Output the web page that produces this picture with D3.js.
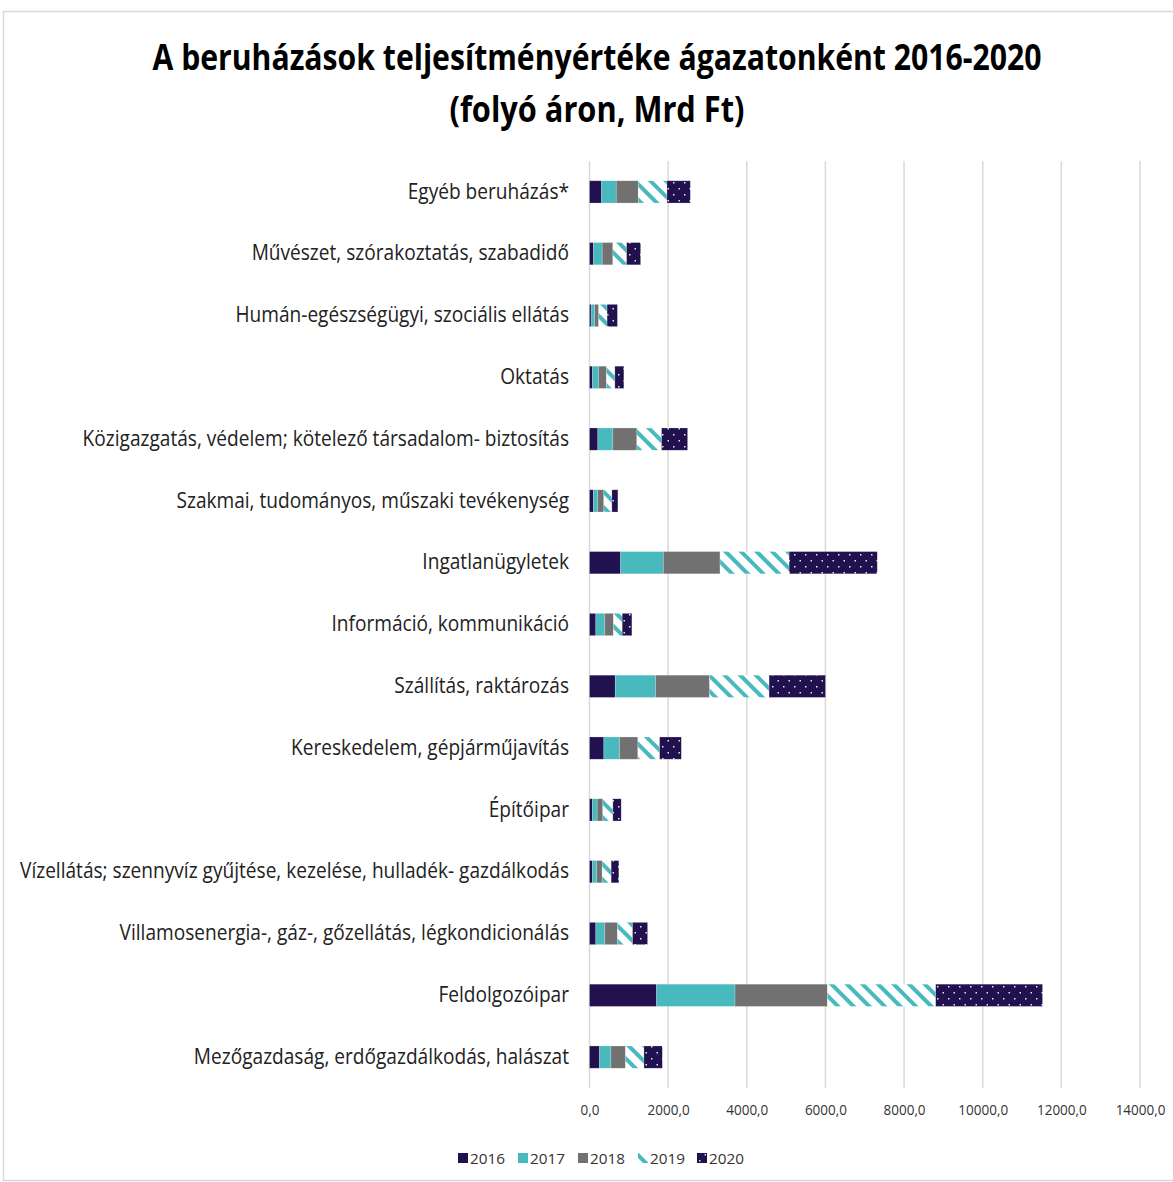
<!DOCTYPE html>
<html>
<head>
<meta charset="utf-8">
<script src="https://cdn.jsdelivr.net/npm/d3@7"></script>
<style>
  body { margin: 0; background: #fff; }
  text { font-family: 'Open Sans', 'Noto Sans', sans-serif; fill: #222; }
</style>
</head>
<body>
<svg id="chart"></svg>
<script>
let width = 1173;
let height = 1182;

// categories, top to bottom
let categories = [
  'Egyéb beruházás*',
  'Művészet, szórakoztatás, szabadidő',
  'Humán-egészségügyi, szociális ellátás',
  'Oktatás',
  'Közigazgatás, védelem; kötelező társadalom- biztosítás',
  'Szakmai, tudományos, műszaki tevékenység',
  'Ingatlanügyletek',
  'Információ, kommunikáció',
  'Szállítás, raktározás',
  'Kereskedelem, gépjárműjavítás',
  'Építőipar',
  'Vízellátás; szennyvíz gyűjtése, kezelése, hulladék- gazdálkodás',
  'Villamosenergia-, gáz-, gőzellátás, légkondicionálás',
  'Feldolgozóipar',
  'Mezőgazdaság, erdőgazdálkodás, halászat',
];

let years = ['2016', '2017', '2018', '2019', '2020'];

// Mrd Ft, same order as categories
let v2016 = [306, 102, 40, 76, 212, 102, 790, 161, 654, 365, 76, 76, 161, 1706, 255];
let v2017 = [374, 221, 93, 153, 382, 110, 1087, 229, 1027, 399, 119, 110, 229, 1995, 289];
let v2018 = [560, 272, 102, 204, 611, 153, 1443, 221, 1375, 467, 144, 136, 323, 2352, 374];
let v2019 = [730, 348, 212, 212, 628, 204, 1757, 221, 1511, 552, 255, 229, 382, 2751, 467];
let v2020 = [594, 357, 263, 229, 662, 153, 2241, 246, 1435, 552, 212, 195, 382, 2717, 467];

let xTicks = [0, 2000, 4000, 6000, 8000, 10000, 12000, 14000];

let rows = categories.map((c, i) => ({
  cat: c,
  '2016': v2016[i],
  '2017': v2017[i],
  '2018': v2018[i],
  '2019': v2019[i],
  '2020': v2020[i],
}));

let navy = '#21124f';
let teal = '#48b9bc';
let grey = '#717171';

let svg = d3.select('#chart').attr('width', width).attr('height', height);
let defs = svg.append('defs');

// 2019: white with teal "\" stripes
let stripe = defs.append('pattern')
  .attr('id', 'stripes')
  .attr('patternUnits', 'userSpaceOnUse')
  .attr('width', 11).attr('height', 11)
  .attr('patternTransform', 'rotate(-45)');
stripe.append('rect').attr('width', 11).attr('height', 11).attr('fill', '#fff');
stripe.append('rect').attr('width', 4).attr('height', 11).attr('fill', teal);

// 2020: navy with small white dots
let dots = defs.append('pattern')
  .attr('id', 'dots')
  .attr('patternUnits', 'userSpaceOnUse')
  .attr('width', 11).attr('height', 12);
dots.append('rect').attr('width', 11).attr('height', 12).attr('fill', navy);
dots.append('rect').attr('x', 2).attr('y', 2).attr('width', 1.5).attr('height', 1.5).attr('fill', '#e8e4f0');
dots.append('rect').attr('x', 7.5).attr('y', 8).attr('width', 1.5).attr('height', 1.5).attr('fill', '#e8e4f0');

let fills = {
  '2016': navy,
  '2017': teal,
  '2018': grey,
  '2019': 'url(#stripes)',
  '2020': 'url(#dots)',
};

// frame
svg.append('rect')
  .attr('x', 3.5).attr('y', 11.5)
  .attr('width', width + 10).attr('height', height - 13)
  .attr('fill', 'none').attr('stroke', '#d9d9d9').attr('stroke-width', 1.5);

// title
let title = svg.append('g').attr('font-weight', 'bold');
title.append('text')
  .attr('x', 597).attr('y', 70)
  .attr('text-anchor', 'middle')
  .attr('font-size', 35)
  .attr('textLength', 889).attr('lengthAdjust', 'spacingAndGlyphs')
  .style('fill', '#000')
  .text('A beruházások teljesítményértéke ágazatonként 2016-2020');
title.append('text')
  .attr('x', 597).attr('y', 122)
  .attr('text-anchor', 'middle')
  .attr('font-size', 35)
  .attr('textLength', 295).attr('lengthAdjust', 'spacingAndGlyphs')
  .style('fill', '#000')
  .text('(folyó áron, Mrd Ft)');

let x = d3.scaleLinear().domain([0, 14000]).range([589.5, 1140]);
let y = d3.scaleBand().domain(categories).range([161, 1088]).paddingInner(0.64).paddingOuter(0.32);

// gridlines
svg.append('g')
  .selectAll('line')
  .data(xTicks)
  .enter()
  .append('line')
  .attr('x1', (d) => x(d)).attr('x2', (d) => x(d))
  .attr('y1', 161).attr('y2', 1088)
  .attr('stroke', '#d9d9d9').attr('stroke-width', 1.5);

// x axis labels
let xAxis = d3.axisBottom(x)
  .tickValues(xTicks)
  .tickSize(0)
  .tickPadding(0)
  .tickFormat((d) => d3.format('.1f')(d).replace('.', ','));
let xg = svg.append('g').attr('transform', 'translate(0,1104)').call(xAxis);
xg.select('.domain').remove();
xg.selectAll('text')
  .attr('font-size', 15)
  .attr('transform', 'scale(0.9,1)')
  .style('font-family', "'Open Sans', sans-serif")
  .style('fill', '#333');

// stacked bars
let stack = d3.stack().keys(years);
let series = stack(rows);

svg.append('g')
  .selectAll('g')
  .data(series)
  .enter()
  .append('g')
  .attr('fill', (s) => fills[s.key])
  .selectAll('rect')
  .data((s) => s)
  .enter()
  .append('rect')
  .attr('x', (d) => x(d[0]))
  .attr('width', (d) => x(d[1]) - x(d[0]))
  .attr('y', (d) => y(d.data.cat))
  .attr('height', y.bandwidth())
  .attr('stroke', '#fff').attr('stroke-opacity', 0.35).attr('stroke-width', 0.6);

// category labels
let yAxis = d3.axisLeft(y).tickSize(0).tickPadding(0);
let yg = svg.append('g').attr('transform', 'translate(569,0)').call(yAxis);
yg.select('.domain').remove();
let labels = yg.selectAll('text')
  .attr('font-size', 21)
  .style('font-family', "'Open Sans', sans-serif")
  .style('fill', '#222');
let maxLen = 0;
labels.each(function () { maxLen = Math.max(maxLen, this.getComputedTextLength()); });
let k = 549 / maxLen;
labels.each(function () {
  let len = this.getComputedTextLength();
  d3.select(this).attr('textLength', len * k).attr('lengthAdjust', 'spacingAndGlyphs');
});

// legend
let legendX = [458, 518, 578, 638, 697];
let legend = svg.append('g')
  .selectAll('g')
  .data(years)
  .enter()
  .append('g')
  .attr('transform', (d, i) => `translate(${legendX[i]},1158)`);
legend.append('rect')
  .attr('x', 0).attr('y', -5)
  .attr('width', 10).attr('height', 10)
  .attr('fill', (d) => fills[d]);
legend.append('text')
  .attr('x', 12).attr('y', 6)
  .attr('font-size', 15)
  .attr('textLength', 35).attr('lengthAdjust', 'spacingAndGlyphs')
  .style('fill', '#333')
  .text((d) => d);
</script>
</body>
</html>
